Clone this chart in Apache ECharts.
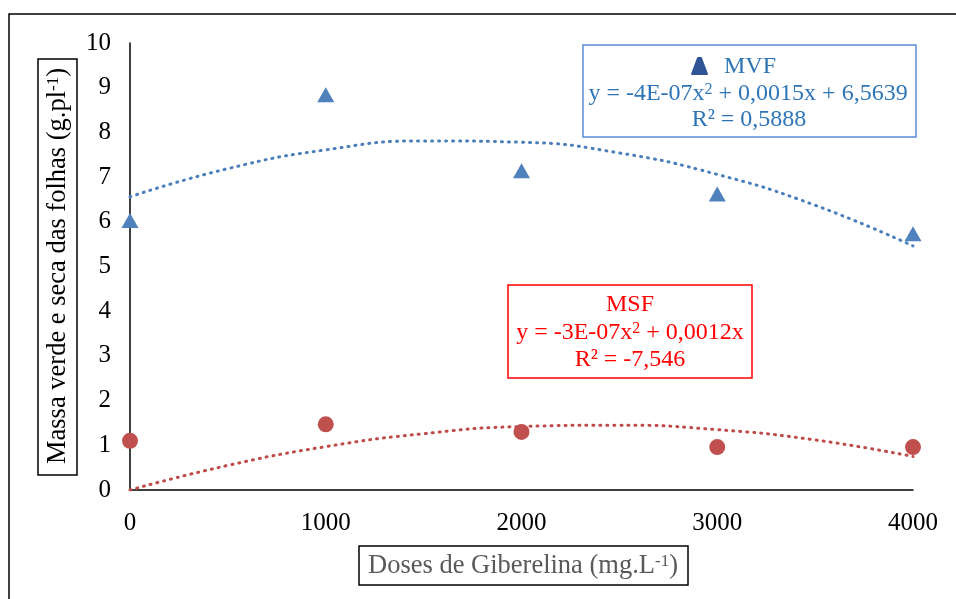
<!DOCTYPE html>
<html>
<head>
<meta charset="utf-8">
<script src="https://cdn.jsdelivr.net/npm/echarts@6/dist/echarts.min.js"></script>
<style>html,body{margin:0;padding:0;background:#fff;}#c{width:956px;height:599px;}</style>
</head>
<body>
<div id="c"></div>
<script>
var doses = [0, 1000, 2000, 3000, 4000];
var mvf = [6.03, 8.84, 7.14, 6.62, 5.73];
var msf = [1.10, 1.47, 1.30, 0.96, 0.96];
var trendX = [0, 500, 1000, 1500, 2000, 2500, 3000, 3500, 4000];
var mvfTrend = [6.56, 7.19, 7.61, 7.81, 7.78, 7.54, 7.06, 6.37, 5.46];
var msfTrend = [0.00, 0.55, 0.97, 1.26, 1.42, 1.45, 1.35, 1.12, 0.75];
var yTicks = [0, 1, 2, 3, 4, 5, 6, 7, 8, 9, 10];
var xTicks = [0, 1000, 2000, 3000, 4000];

function pairs(xs, ys) { return xs.map(function (x, i) { return [x, ys[i]]; }); }

var FONT = '"Liberation Serif","Times New Roman",serif';
var FS = 25;     // tick labels
var TS = 26.5;   // axis titles
var LS = 24;     // annotation boxes
var chart = echarts.init(document.getElementById('c'), null, {renderer: 'canvas'});

var supStyle = function (color, base) {
  return {fontSize: Math.round(base * 0.65), fontFamily: FONT, fill: color, verticalAlign: 'bottom', padding: [0, 0, 10, 0], lineHeight: 28};
};
var baseStyle = function (color, size) {
  return {fontSize: size, fontFamily: FONT, fill: color, lineHeight: 28};
};

chart.setOption({
  animation: false,
  backgroundColor: '#fff',
  grid: {left: 130, right: 43, top: 43, bottom: 109},
  xAxis: {
    type: 'value', min: xTicks[0], max: xTicks[xTicks.length - 1], interval: 1000,
    axisLine: {show: true, onZero: false, lineStyle: {color: '#000', width: 1.5}},
    axisTick: {show: false}, splitLine: {show: false},
    axisLabel: {fontSize: FS, fontFamily: FONT, color: '#000', margin: 21,
      formatter: function (v) { return String(v); }}
  },
  yAxis: {
    type: 'value', min: yTicks[0], max: yTicks[yTicks.length - 1], interval: 1,
    axisLine: {show: true, onZero: false, lineStyle: {color: '#000', width: 1.5}},
    axisTick: {show: false}, splitLine: {show: false},
    axisLabel: {fontSize: FS, fontFamily: FONT, color: '#000', margin: 19}
  },
  series: [
    {
      name: 'MVF trend', type: 'line', smooth: true, symbol: 'none', z: 3,
      data: pairs(trendX, mvfTrend),
      lineStyle: {color: '#4A7EBB', width: 3, type: [1, 6], cap: 'round'}
    },
    {
      name: 'MSF trend', type: 'line', smooth: true, symbol: 'none', z: 3,
      data: pairs(trendX, msfTrend),
      lineStyle: {color: '#BE4B48', width: 3, type: [1, 6], cap: 'round'}
    },
    {
      name: 'MVF', type: 'scatter', symbol: 'triangle', symbolSize: [17, 15], z: 4,
      data: pairs(doses, mvf), itemStyle: {color: '#4F81BD', opacity: 1}
    },
    {
      name: 'MSF', type: 'scatter', symbol: 'circle', symbolSize: 16, z: 4,
      data: pairs(doses, msf), itemStyle: {color: '#C0504D', opacity: 1}
    }
  ],
  graphic: [
    {type: 'rect', shape: {x: 9, y: 14, width: 1000, height: 700},
     style: {fill: 'none', stroke: '#000', lineWidth: 1.5}, silent: true, z: 0},
    // y axis title box
    {type: 'rect', shape: {x: 38, y: 59, width: 39, height: 416},
     style: {fill: '#fff', stroke: '#000', lineWidth: 1.5}, z: 5},
    {type: 'text', x: 58, y: 266, rotation: Math.PI / 2, z: 6,
     style: {text: '{b|Massa verde e seca das folhas (g.pl}{s|-1}{b|)}', align: 'center', verticalAlign: 'middle',
       rich: {b: baseStyle('#000', TS), s: supStyle('#000', TS)}}},
    // x axis title box
    {type: 'rect', shape: {x: 359, y: 546, width: 329, height: 39},
     style: {fill: '#fff', stroke: '#000', lineWidth: 1.5}, z: 5},
    {type: 'text', x: 523, y: 566, z: 6,
     style: {text: '{b|Doses de Giberelina (mg.L}{s|-1}{b|)}', align: 'center', verticalAlign: 'middle',
       rich: {b: baseStyle('#595959', TS), s: supStyle('#595959', TS)}}},
    // MVF label box
    {type: 'rect', shape: {x: 583, y: 45, width: 333, height: 92},
     style: {fill: '#fff', stroke: '#5B8FD4', lineWidth: 1.5}, z: 5},
    {type: 'polygon', z: 6, shape: {points: [[698, 58], [701, 58], [707, 74], [692, 74]]},
     style: {fill: '#2F5597', stroke: '#2F5597', lineWidth: 2, lineJoin: 'round'}},
    {type: 'text', x: 750, y: 67, z: 6,
     style: {text: 'MVF', align: 'center', verticalAlign: 'middle', fontSize: LS, fontFamily: FONT, fill: '#2E75B6'}},
    {type: 'text', x: 748, y: 94, z: 6,
     style: {text: '{b|y = -4E-07x}{s|2}{b| + 0,0015x + 6,5639}', align: 'center', verticalAlign: 'middle',
       rich: {b: baseStyle('#2E75B6', LS), s: supStyle('#2E75B6', LS)}}},
    {type: 'text', x: 749, y: 120, z: 6,
     style: {text: 'R² = 0,5888', align: 'center', verticalAlign: 'middle', fontSize: LS, fontFamily: FONT, fill: '#2E75B6'}},
    // MSF label box
    {type: 'rect', shape: {x: 508, y: 285, width: 244, height: 93},
     style: {fill: '#fff', stroke: '#FF0000', lineWidth: 1.5}, z: 5},
    {type: 'text', x: 630, y: 305, z: 6,
     style: {text: 'MSF', align: 'center', verticalAlign: 'middle', fontSize: LS, fontFamily: FONT, fill: '#FF0000'}},
    {type: 'text', x: 630, y: 333, z: 6,
     style: {text: '{b|y = -3E-07x}{s|2}{b| + 0,0012x}', align: 'center', verticalAlign: 'middle',
       rich: {b: baseStyle('#FF0000', LS), s: supStyle('#FF0000', LS)}}},
    {type: 'text', x: 630, y: 360, z: 6,
     style: {text: 'R² = -7,546', align: 'center', verticalAlign: 'middle', fontSize: LS, fontFamily: FONT, fill: '#FF0000'}}
  ]
});
</script>
</body>
</html>
